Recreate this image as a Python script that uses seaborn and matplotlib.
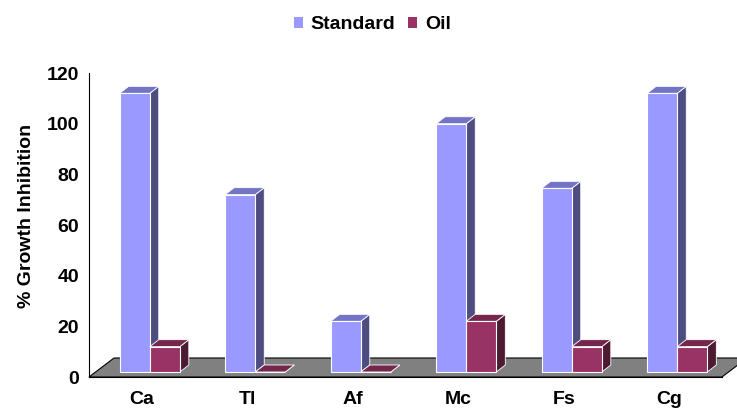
import numpy as np
import pandas as pd
import seaborn as sns
import matplotlib.pyplot as plt
from matplotlib.patches import Polygon, Patch
from matplotlib.transforms import Affine2D, IdentityTransform

# data
categories = ['Ca', 'Tl', 'Af', 'Mc', 'Fs', 'Cg']
standard = [110, 70, 20, 98, 72.5, 110]
oil = [10, 0, 0, 20, 10, 10]
series = ['Standard', 'Oil']

front_cols = {'Standard': '#9999FF', 'Oil': '#993366'}
top_cols = {'Standard': '#7474C6', 'Oil': '#74264D'}
side_cols = {'Standard': '#4D4D80', 'Oil': '#4D1A33'}

df = pd.DataFrame({'cat': categories * 2,
                   'series': ['Standard'] * len(categories) + ['Oil'] * len(categories),
                   'val': standard + oil})

sns.set_style('white')
plt.rcParams['font.family'] = ['Liberation Sans', 'DejaVu Sans']
plt.rcParams['font.weight'] = 'bold'
for key in ['text.color', 'axes.labelcolor', 'xtick.color', 'ytick.color']:
    plt.rcParams[key] = 'black'

fig = plt.figure(figsize=(7.37, 4.12), dpi=100)
ax = fig.add_axes([89 / 737, 1 - 377 / 412, 633 / 737, 304 / 412])
sns.barplot(data=df, x='cat', y='val', hue='series', palette=front_cols,
            saturation=1, width=0.57, ax=ax, legend=False,
            edgecolor='white', linewidth=0.8, err_kws={'linewidth': 0})
ax.set_xlim(-0.5, 5.5)
ax.set_ylim(0, 120)

# pseudo 3d: pixel offsets
front = (8, 5)     # bars sit in the middle of the floor
depth = (9, 7)     # bar depth
floor_d = (25, 19)

T = ax.transData
ident = IdentityTransform()

# floor
(fx0, fy0), (fx1, fy1) = T.transform([(-0.5, 0), (5.5, 0)])
floor = Polygon([(fx0, fy0), (fx1, fy1), (fx1 + floor_d[0], fy1 + floor_d[1]),
                 (fx0 + floor_d[0], fy0 + floor_d[1])],
                closed=True, transform=ident, facecolor='#808080',
                edgecolor='black', linewidth=0.8, zorder=1, clip_on=False)
fig.add_artist(floor)

for k, (name, cont) in enumerate(zip(series, ax.containers)):
    base_z = 2 + 3 * k
    for bar in cont:
        x0, w, h = bar.get_x(), bar.get_width(), bar.get_height()
        (xl, yb), (xr, yt) = T.transform([(x0, 0), (x0 + w, h)])
        xl += front[0]; xr += front[0]; yb += front[1]; yt += front[1]
        dx, dy = depth
        side = Polygon([(xr, yb), (xr, yt), (xr + dx, yt + dy), (xr + dx, yb + dy)],
                       closed=True, transform=ident, facecolor=side_cols[name],
                       edgecolor='white', linewidth=0.6, zorder=base_z)
        top = Polygon([(xl, yt), (xr, yt), (xr + dx, yt + dy), (xl + dx, yt + dy)],
                      closed=True, transform=ident, facecolor=top_cols[name],
                      edgecolor='white', linewidth=0.6, zorder=base_z + 1)
        fig.add_artist(side)
        fig.add_artist(top)
        bar.set_transform(T + Affine2D().translate(*front))
        bar.set_clip_on(False)
        bar.set_zorder(base_z + 2)
        bar.remove()
        fig.add_artist(bar)

# axes styling
for s in ['top', 'right']:
    ax.spines[s].set_visible(False)
for s in ['left', 'bottom']:
    ax.spines[s].set_color('black')
    ax.spines[s].set_linewidth(0.8)
    ax.spines[s].set_zorder(20)
ax.set_yticks(np.arange(0, 121, 20))
ax.set_xticks(range(len(categories)))
ax.set_xticklabels(categories)
ax.set_xticks(np.arange(-0.5, len(categories)), minor=True)
ax.tick_params(axis='x', which='major', length=0, pad=10, labelsize=14)
ax.tick_params(axis='x', which='minor', length=5, width=0.8, direction='out', color='black')
ax.tick_params(axis='y', length=4, width=0.8, direction='out', color='black', pad=3, labelsize=14)
ax.set_xlabel('')
ax.set_ylabel('% Growth Inhibition', fontsize=14, fontweight='bold')
ax.yaxis.set_label_coords(-0.085, 0.53)

handles = [Patch(facecolor=front_cols[s], edgecolor='none', label=s) for s in series]
fig.legend(handles=handles, loc='center', bbox_to_anchor=(0.505, 0.94), ncol=2,
           frameon=False, handlelength=0.46, handleheight=0.46, handletextpad=0.42,
           columnspacing=0.62, prop={'weight': 'bold', 'size': 14})

fig.savefig('out.png', dpi=100)
